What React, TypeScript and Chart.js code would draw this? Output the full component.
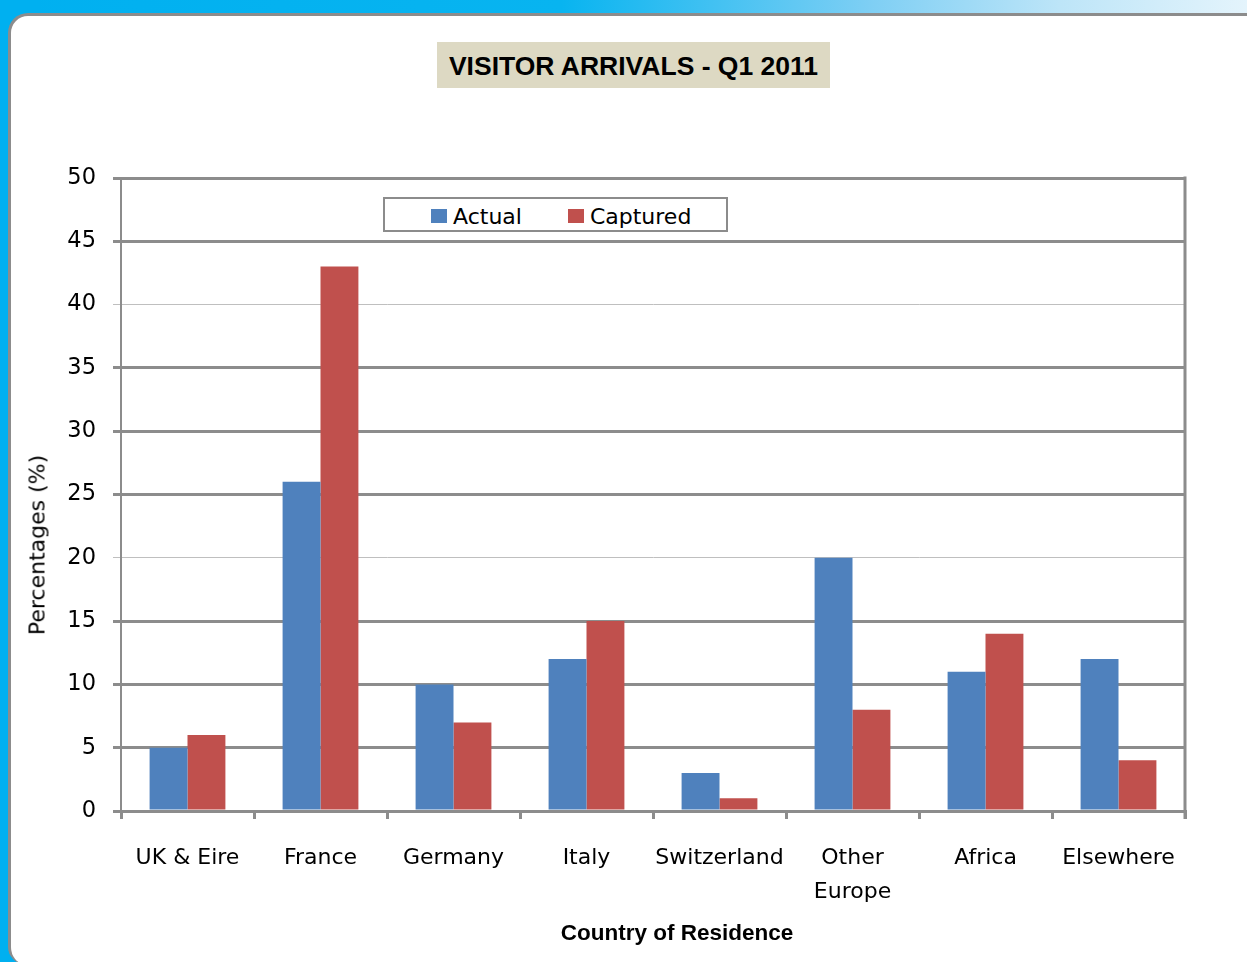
import React, { useEffect, useRef } from "react";
import { Chart, registerables } from "chart.js";

Chart.register(...registerables);

const categories: (string | string[])[] = [
  "UK & Eire",
  "France",
  "Germany",
  "Italy",
  "Switzerland",
  ["Other", "Europe"],
  "Africa",
  "Elsewhere",
];
const actualValues = [5, 26, 10, 12, 3, 20, 11, 12];
const capturedValues = [6, 43, 7, 15, 1, 8, 14, 4];
const seriesNames = ["Actual", "Captured"];
const seriesColors = ["#4F81BD", "#C0504D"];
const chartTitle = "VISITOR ARRIVALS - Q1 2011";
const yTitle = "Percentages (%)";
const xTitle = "Country of Residence";
const thinGridValues = [20, 40];

const GRAY = "#8C8C8C";
const FONT = "'DejaVu Sans', sans-serif";

const rightBorderPlugin = {
  id: "rightBorder",
  afterDraw(chart: any) {
    const { ctx, chartArea } = chart;
    ctx.save();
    ctx.strokeStyle = GRAY;
    ctx.lineWidth = 3;
    ctx.beginPath();
    ctx.moveTo(chartArea.right, chartArea.top - 1.5);
    ctx.lineTo(chartArea.right, chartArea.bottom + 8);
    ctx.stroke();
    ctx.restore();
  },
};

export default function App() {
  const canvasRef = useRef<HTMLCanvasElement | null>(null);

  useEffect(() => {
    document.body.style.margin = "0";
    const canvas = canvasRef.current;
    if (!canvas) return;
    const chart = new Chart(canvas, {
      type: "bar",
      data: {
        labels: categories,
        datasets: [
          {
            label: seriesNames[0],
            data: actualValues,
            backgroundColor: seriesColors[0],
            categoryPercentage: 0.57,
            barPercentage: 1,
          },
          {
            label: seriesNames[1],
            data: capturedValues,
            backgroundColor: seriesColors[1],
            categoryPercentage: 0.57,
            barPercentage: 1,
          },
        ],
      },
      options: {
        animation: false,
        responsive: false,
        maintainAspectRatio: false,
        layout: { padding: { top: 178, right: 62, left: 0, bottom: 0 } },
        plugins: {
          legend: { display: false },
          title: { display: false },
          tooltip: { enabled: false },
        },
        scales: {
          x: {
            afterFit(scale: any) {
              scale.height = 151;
            },
            grid: {
              display: true,
              drawOnChartArea: false,
              drawTicks: true,
              tickLength: 8,
              color: GRAY,
              lineWidth: 3,
              offset: true,
            },
            border: { display: true, color: GRAY, width: 2 },
            ticks: {
              color: "#000",
              font: { family: FONT, size: 22, lineHeight: 1.55 },
              padding: 22,
              maxRotation: 0,
              autoSkip: false,
            },
          },
          y: {
            min: 0,
            max: 50,
            afterFit(scale: any) {
              scale.width = 121;
            },
            grid: {
              drawTicks: true,
              tickLength: 8,
              color: (ctx: any) =>
                thinGridValues.includes(ctx.tick?.value) ? "#BFBFBF" : GRAY,
              lineWidth: (ctx: any) =>
                thinGridValues.includes(ctx.tick?.value) ? 1 : 3,
            },
            border: { display: true, color: GRAY, width: 2 },
            ticks: {
              stepSize: 5,
              color: "#000",
              font: { family: FONT, size: 22.5 },
              padding: 17,
            },
          },
        },
      },
      plugins: [rightBorderPlugin],
    });
    return () => chart.destroy();
  }, []);

  return (
    <div
      style={{
        position: "absolute",
        left: 0,
        top: 0,
        width: 1247,
        height: 962,
        overflow: "hidden",
        background: "#fff",
      }}
    >
      <div
        style={{
          position: "absolute",
          left: 0,
          top: 0,
          width: 1247,
          height: 40,
          background:
            "linear-gradient(to right, #00B0F0 0%, #08B4F0 45%, #7FCFF4 70%, #BDE5F8 85%, #E4F4FC 100%)",
        }}
      />
      <div
        style={{
          position: "absolute",
          left: 0,
          top: 0,
          width: 40,
          height: 962,
          background: "#00B0F0",
        }}
      />
      <div
        style={{
          position: "absolute",
          left: 8,
          top: 13,
          width: 1250,
          height: 951,
          boxSizing: "border-box",
          background: "#fff",
          borderTop: `3px solid ${GRAY}`,
          borderLeft: `3px solid ${GRAY}`,
          borderTopLeftRadius: 20,
          borderBottomLeftRadius: 17,
        }}
      />
      <canvas
        ref={canvasRef}
        width={1247}
        height={962}
        style={{ position: "absolute", left: 0, top: 0 }}
      />
      <div
        style={{
          position: "absolute",
          left: 437,
          top: 42,
          width: 393,
          height: 46,
          background: "#DDD9C3",
          display: "flex",
          alignItems: "center",
          justifyContent: "center",
          fontFamily: "'Liberation Sans', Arial, sans-serif",
          fontWeight: "bold",
          fontSize: 26.5,
          color: "#000",
          whiteSpace: "nowrap",
          paddingTop: 2,
          boxSizing: "border-box",
        }}
      >
        {chartTitle}
      </div>
      <div
        style={{
          position: "absolute",
          left: 383,
          top: 197,
          width: 345,
          height: 35,
          boxSizing: "border-box",
          border: `2px solid ${GRAY}`,
          background: "#fff",
          display: "flex",
          alignItems: "center",
          paddingLeft: 46,
          paddingTop: 3,
          fontFamily: FONT,
          fontSize: 22,
          color: "#000",
          whiteSpace: "nowrap",
        }}
      >
        {seriesNames.map((name, i) => (
          <div
            key={name}
            style={{
              display: "flex",
              alignItems: "center",
              marginRight: i === 0 ? 46 : 0,
            }}
          >
            <span
              style={{
                display: "inline-block",
                width: 16,
                height: 14,
                background: seriesColors[i],
                marginRight: 6,
              }}
            />
            <span>{name}</span>
          </div>
        ))}
      </div>
      <div
        style={{
          position: "absolute",
          left: 37,
          top: 545,
          transform: "translate(-50%, -50%) rotate(-90deg)",
          fontFamily: FONT,
          fontSize: 22,
          color: "#000",
          whiteSpace: "nowrap",
        }}
      >
        {yTitle}
      </div>
      <div
        style={{
          position: "absolute",
          left: 677,
          top: 933,
          transform: "translate(-50%, -50%)",
          fontFamily: "'Liberation Sans', Arial, sans-serif",
          fontWeight: "bold",
          fontSize: 22.5,
          color: "#000",
          whiteSpace: "nowrap",
        }}
      >
        {xTitle}
      </div>
    </div>
  );
}
